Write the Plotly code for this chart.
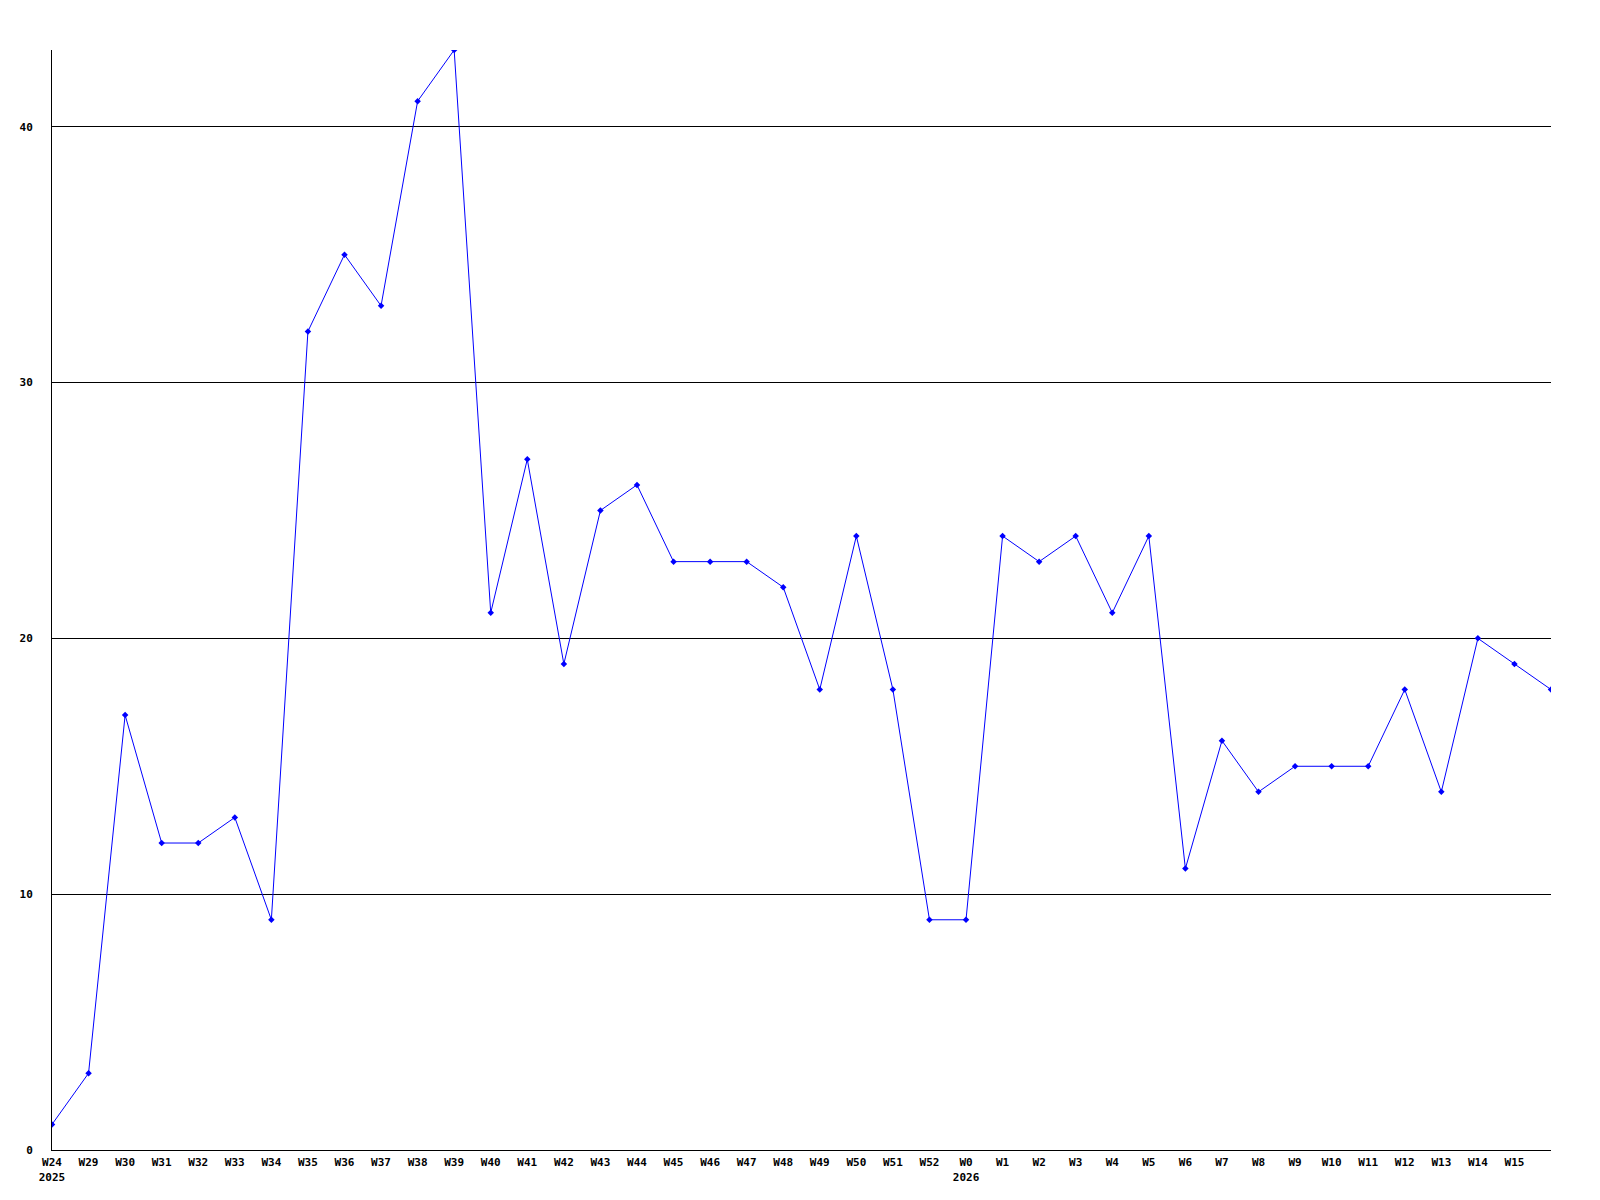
import plotly.graph_objects as go

weeks = ["W24", "W29", "W30", "W31", "W32", "W33", "W34", "W35", "W36", "W37",
         "W38", "W39", "W40", "W41", "W42", "W43", "W44", "W45", "W46", "W47",
         "W48", "W49", "W50", "W51", "W52", "W0", "W1", "W2", "W3", "W4",
         "W5", "W6", "W7", "W8", "W9", "W10", "W11", "W12", "W13", "W14",
         "W15", ""]
years = ["2025"] + [""] * 24 + ["2026"] + [""] * 16
values = [1, 3, 17, 12, 12, 13, 9, 32, 35, 33,
          41, 43, 21, 27, 19, 25, 26, 23, 23, 23,
          22, 18, 24, 18, 9, 9, 24, 23, 24, 21,
          24, 11, 16, 14, 15, 15, 15, 18, 14, 20,
          19, 18]
y_ticks = [0, 10, 20, 30, 40]

x = list(range(len(values)))
ticktext = [w + ("<br>" + y if y else "") for w, y in zip(weeks, years)]

fig = go.Figure()
fig.add_trace(go.Scatter(
    x=x, y=values, mode="lines+markers",
    line=dict(color="#0000ff", width=1),
    marker=dict(symbol="diamond", size=5, color="#0000ff"),
    cliponaxis=True, showlegend=False,
))

font = dict(family="DejaVu Sans Mono", size=11, color="black", weight="bold")

fig.update_layout(
    width=1600, height=1200,
    margin=dict(l=42, r=57, t=42, b=58),
    paper_bgcolor="white", plot_bgcolor="white",
    xaxis=dict(
        range=[0, len(values) - 1], tickmode="array", tickvals=x, ticktext=ticktext,
        showgrid=False, zeroline=False, showline=True, linecolor="black", linewidth=1,
        ticks="", tickfont=font, ticklabelstandoff=2,
    ),
    yaxis=dict(
        range=[0, 43], tickmode="array", tickvals=y_ticks,
        showgrid=True, gridcolor="black", gridwidth=1,
        zeroline=False, showline=True, linecolor="black", linewidth=1,
        ticks="", tickfont=font, ticklabelstandoff=16,
    ),
)

fig.write_html("out.html")
